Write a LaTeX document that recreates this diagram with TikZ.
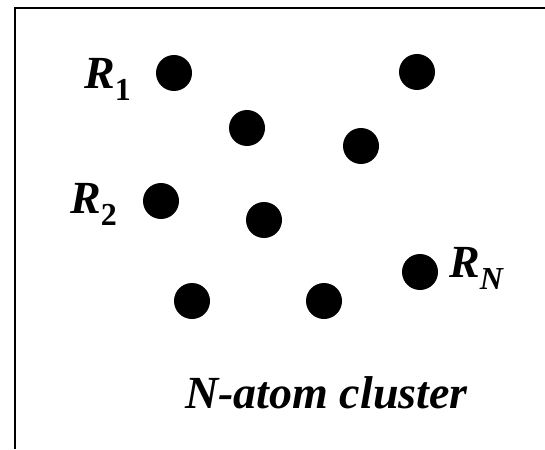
\documentclass[tikz,border=0pt]{standalone}
\usepackage{fontspec}
\setmainfont{Liberation Serif}
\begin{document}
\begin{tikzpicture}[x=1pt,y=-1pt,
  atom/.style={circle, fill=black, minimum size=36pt, inner sep=0pt},
  lbl/.style={font=\fontsize{46}{46}\selectfont\bfseries\itshape, inner sep=0pt, anchor=base west},
  frame/.style={line width=2pt}]
\useasboundingbox (0,0) rectangle (545,449);
\coordinate (tl) at (15.3,8.3);
\coordinate (tr) at (545,8.3);
\coordinate (bl) at (15.3,449);
\draw[frame] (tr) -- (tl) -- (bl);
\node[atom] (a1) at (174,73) {};
\node[atom] (a2) at (417,72) {};
\node[atom] (a3) at (247,128) {};
\node[atom] (a4) at (361,146) {};
\node[atom] (a5) at (161,201) {};
\node[atom] (a6) at (264,220) {};
\node[atom] (a7) at (420,272) {};
\node[atom] (a8) at (192,301) {};
\node[atom] (a9) at (324,301) {};
\newcommand{\subsc}[1]{\raisebox{-12pt}{\fontsize{32}{32}\selectfont #1}}
\node[lbl] (r1) at (84,88.3) {R\subsc{\upshape 1}};
\node[lbl] (r2) at (70,213) {R\subsc{\upshape 2}};
\node[lbl] (rn) at (449,277) {R\subsc{N}};
\node[lbl] (cap) at (185,408.3) {N-atom cluster};
\end{tikzpicture}
\end{document}
